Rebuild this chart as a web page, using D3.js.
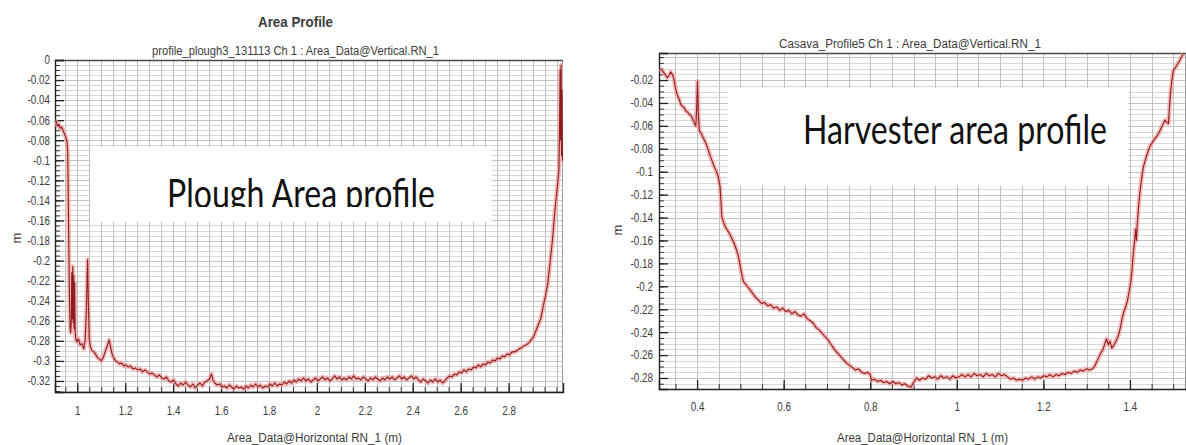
<!DOCTYPE html>
<html>
<head>
<meta charset="utf-8">
<script src="https://cdn.jsdelivr.net/npm/d3@7"></script>
<style>
  body { margin: 0; background: #fff; }
  svg { display: block; }
  .tick text { font-family: "Liberation Sans Narrow", "Liberation Sans", Arial, sans-serif; font-size: 12px; fill: #3c3c3c; }
  .lbl { font-family: "Liberation Sans Narrow", "Liberation Sans", Arial, sans-serif; fill: #3c3c3c; }
  .big { font-family: Lato, "Open Sans", sans-serif; fill: #111; }
</style>
</head>
<body>
<div id="container"></div>
<script>
// plough panel
const ploughXTicks = [1, 1.2, 1.4, 1.6, 1.8, 2, 2.2, 2.4, 2.6, 2.8];
const ploughYTicks = [0, -0.02, -0.04, -0.06, -0.08, -0.1, -0.12, -0.14, -0.16, -0.18, -0.2, -0.22, -0.24, -0.26, -0.28, -0.3, -0.32];
const ploughProfile = [
  [0.907,-0.060],[0.913,-0.062],[0.918,-0.066],[0.923,-0.064],[0.929,-0.068],[0.935,-0.067],[0.942,-0.071],[0.947,-0.074],
  [0.952,-0.077],[0.957,-0.082],[0.960,-0.092],[0.962,-0.130],[0.964,-0.170],[0.966,-0.210],[0.968,-0.245],[0.970,-0.266],
  [0.972,-0.272],[0.975,-0.262],[0.977,-0.212],[0.979,-0.258],[0.981,-0.206],[0.983,-0.262],[0.985,-0.215],[0.987,-0.268],
  [0.989,-0.222],[0.991,-0.270],[0.994,-0.279],[0.999,-0.281],[1.005,-0.278],[1.012,-0.284],[1.020,-0.283],[1.027,-0.288],
  [1.033,-0.279],[1.038,-0.250],[1.043,-0.199],[1.046,-0.240],[1.050,-0.278],[1.055,-0.286],[1.062,-0.290],[1.070,-0.291],
  [1.078,-0.294],[1.085,-0.297],[1.092,-0.298],[1.100,-0.300],[1.108,-0.297],[1.116,-0.291],[1.125,-0.285],[1.133,-0.279],
  [1.138,-0.285],[1.145,-0.293],[1.152,-0.297],[1.160,-0.300],[1.168,-0.301],[1.176,-0.303],[1.185,-0.302],[1.194,-0.305],
  [1.203,-0.304],[1.212,-0.306],[1.222,-0.305],[1.232,-0.308],[1.242,-0.307],[1.252,-0.309],[1.262,-0.308],[1.272,-0.311],
  [1.282,-0.309],[1.292,-0.311],[1.302,-0.313],[1.312,-0.312],[1.322,-0.314],[1.332,-0.316],[1.342,-0.314],[1.352,-0.317],
  [1.362,-0.318],[1.372,-0.316],[1.382,-0.320],[1.392,-0.321],[1.402,-0.319],[1.412,-0.323],[1.422,-0.325],[1.432,-0.322],
  [1.442,-0.324],[1.452,-0.321],[1.462,-0.324],[1.472,-0.326],[1.482,-0.323],[1.492,-0.327],[1.502,-0.324],[1.512,-0.322],
  [1.522,-0.325],[1.532,-0.321],[1.542,-0.320],[1.552,-0.318],[1.560,-0.313],[1.566,-0.319],[1.574,-0.322],[1.584,-0.324],
  [1.594,-0.323],[1.604,-0.326],[1.614,-0.325],[1.624,-0.327],[1.634,-0.324],[1.644,-0.326],[1.654,-0.328],[1.664,-0.325],
  [1.674,-0.327],[1.684,-0.326],[1.694,-0.328],[1.704,-0.325],[1.714,-0.327],[1.724,-0.324],[1.734,-0.326],[1.744,-0.323],
  [1.754,-0.326],[1.764,-0.324],[1.774,-0.327],[1.784,-0.325],[1.794,-0.326],[1.804,-0.323],[1.814,-0.325],[1.824,-0.322],
  [1.834,-0.325],[1.844,-0.323],[1.854,-0.324],[1.864,-0.321],[1.874,-0.323],[1.884,-0.320],[1.894,-0.322],[1.904,-0.319],
  [1.914,-0.321],[1.924,-0.318],[1.934,-0.320],[1.944,-0.317],[1.954,-0.320],[1.964,-0.318],[1.974,-0.321],[1.984,-0.319],
  [1.994,-0.317],[2.004,-0.320],[2.014,-0.318],[2.024,-0.316],[2.034,-0.319],[2.044,-0.317],[2.054,-0.320],[2.064,-0.318],
  [2.074,-0.315],[2.084,-0.318],[2.094,-0.316],[2.104,-0.319],[2.114,-0.317],[2.124,-0.319],[2.134,-0.316],[2.144,-0.318],
  [2.154,-0.315],[2.164,-0.318],[2.174,-0.317],[2.184,-0.319],[2.194,-0.316],[2.204,-0.318],[2.214,-0.320],[2.224,-0.317],
  [2.234,-0.319],[2.244,-0.316],[2.254,-0.318],[2.264,-0.320],[2.274,-0.317],[2.284,-0.319],[2.294,-0.316],[2.304,-0.318],
  [2.314,-0.316],[2.324,-0.319],[2.334,-0.317],[2.344,-0.315],[2.354,-0.318],[2.364,-0.316],[2.374,-0.319],[2.384,-0.317],
  [2.394,-0.315],[2.404,-0.318],[2.414,-0.316],[2.424,-0.319],[2.434,-0.321],[2.444,-0.318],[2.454,-0.320],[2.464,-0.322],
  [2.474,-0.319],[2.484,-0.321],[2.494,-0.318],[2.504,-0.321],[2.514,-0.319],[2.524,-0.322],[2.534,-0.320],[2.544,-0.317],
  [2.554,-0.315],[2.564,-0.316],[2.574,-0.313],[2.584,-0.314],[2.594,-0.311],[2.604,-0.312],[2.614,-0.309],[2.624,-0.311],
  [2.634,-0.308],[2.644,-0.309],[2.654,-0.306],[2.664,-0.307],[2.674,-0.304],[2.684,-0.306],[2.694,-0.303],[2.704,-0.304],
  [2.714,-0.301],[2.724,-0.302],[2.734,-0.299],[2.744,-0.300],[2.754,-0.297],[2.764,-0.298],[2.774,-0.295],[2.784,-0.296],
  [2.794,-0.293],[2.804,-0.294],[2.814,-0.291],[2.824,-0.291],[2.834,-0.290],[2.844,-0.288],[2.854,-0.287],[2.864,-0.285],
  [2.874,-0.284],[2.884,-0.282],[2.894,-0.279],[2.904,-0.276],[2.914,-0.270],[2.924,-0.264],[2.934,-0.258],[2.944,-0.246],
  [2.954,-0.235],[2.964,-0.222],[2.974,-0.200],[2.984,-0.177],[2.994,-0.148],[3.004,-0.125],[3.010,-0.110],[3.013,-0.060],
  [3.015,-0.010],[3.017,-0.080],[3.019,-0.005],[3.021,-0.095],[3.023,-0.030],[3.025,-0.100],[3.027,-0.098]
];

// cassava / harvester panel
const cassavaXTicks = [0.4, 0.6, 0.8, 1, 1.2, 1.4];
const cassavaYTicks = [-0.02, -0.04, -0.06, -0.08, -0.1, -0.12, -0.14, -0.16, -0.18, -0.2, -0.22, -0.24, -0.26, -0.28];
const cassavaProfile = [
  [0.314,-0.010],[0.320,-0.012],[0.326,-0.015],[0.331,-0.018],[0.335,-0.016],[0.339,-0.013],[0.343,-0.015],[0.347,-0.020],
  [0.350,-0.027],[0.354,-0.033],[0.358,-0.036],[0.362,-0.041],[0.366,-0.043],[0.370,-0.044],[0.374,-0.047],[0.378,-0.048],
  [0.382,-0.050],[0.386,-0.051],[0.390,-0.054],[0.394,-0.058],[0.397,-0.060],[0.399,-0.045],[0.401,-0.021],[0.403,-0.050],
  [0.405,-0.064],[0.410,-0.067],[0.415,-0.071],[0.420,-0.075],[0.425,-0.080],[0.430,-0.086],[0.435,-0.091],[0.440,-0.096],
  [0.445,-0.100],[0.449,-0.105],[0.453,-0.113],[0.455,-0.125],[0.457,-0.139],[0.461,-0.144],[0.465,-0.148],[0.470,-0.151],
  [0.475,-0.154],[0.480,-0.158],[0.485,-0.162],[0.490,-0.167],[0.495,-0.173],[0.499,-0.181],[0.503,-0.189],[0.507,-0.196],
  [0.512,-0.198],[0.518,-0.201],[0.524,-0.204],[0.530,-0.207],[0.536,-0.210],[0.542,-0.212],[0.549,-0.215],[0.556,-0.214],
  [0.563,-0.217],[0.570,-0.216],[0.577,-0.219],[0.584,-0.218],[0.591,-0.221],[0.598,-0.219],[0.605,-0.222],[0.612,-0.221],
  [0.619,-0.224],[0.626,-0.222],[0.633,-0.225],[0.640,-0.226],[0.647,-0.224],[0.654,-0.228],[0.661,-0.230],[0.668,-0.232],
  [0.675,-0.236],[0.682,-0.238],[0.689,-0.241],[0.696,-0.244],[0.703,-0.247],[0.710,-0.251],[0.717,-0.255],[0.724,-0.258],
  [0.731,-0.261],[0.738,-0.264],[0.745,-0.267],[0.752,-0.269],[0.759,-0.271],[0.766,-0.273],[0.773,-0.272],[0.780,-0.275],
  [0.787,-0.276],[0.794,-0.275],[0.800,-0.277],[0.803,-0.282],[0.810,-0.281],[0.817,-0.283],[0.824,-0.282],[0.831,-0.284],
  [0.838,-0.283],[0.845,-0.285],[0.852,-0.283],[0.859,-0.285],[0.866,-0.284],[0.873,-0.286],[0.880,-0.285],[0.887,-0.287],
  [0.894,-0.288],[0.900,-0.284],[0.907,-0.280],[0.914,-0.282],[0.921,-0.280],[0.928,-0.281],[0.935,-0.278],[0.942,-0.280],
  [0.949,-0.279],[0.956,-0.281],[0.963,-0.278],[0.970,-0.280],[0.977,-0.279],[0.984,-0.281],[0.991,-0.278],[0.998,-0.280],
  [1.005,-0.279],[1.012,-0.277],[1.019,-0.279],[1.026,-0.277],[1.033,-0.279],[1.040,-0.276],[1.047,-0.278],[1.054,-0.277],
  [1.061,-0.279],[1.068,-0.276],[1.075,-0.278],[1.082,-0.277],[1.089,-0.279],[1.096,-0.276],[1.103,-0.278],[1.110,-0.277],
  [1.117,-0.279],[1.124,-0.281],[1.131,-0.280],[1.138,-0.282],[1.145,-0.281],[1.152,-0.282],[1.159,-0.280],[1.166,-0.281],
  [1.173,-0.279],[1.180,-0.281],[1.187,-0.279],[1.194,-0.280],[1.201,-0.278],[1.208,-0.279],[1.215,-0.277],[1.222,-0.279],
  [1.229,-0.277],[1.236,-0.278],[1.243,-0.276],[1.250,-0.277],[1.257,-0.275],[1.264,-0.276],[1.271,-0.274],[1.278,-0.275],
  [1.285,-0.273],[1.292,-0.274],[1.299,-0.272],[1.306,-0.273],[1.313,-0.272],[1.318,-0.270],[1.323,-0.266],[1.328,-0.262],
  [1.333,-0.258],[1.338,-0.255],[1.342,-0.250],[1.346,-0.246],[1.350,-0.251],[1.354,-0.248],[1.358,-0.254],[1.362,-0.252],
  [1.366,-0.249],[1.370,-0.246],[1.374,-0.242],[1.378,-0.236],[1.382,-0.228],[1.386,-0.222],[1.390,-0.218],[1.394,-0.213],
  [1.398,-0.205],[1.402,-0.196],[1.405,-0.185],[1.408,-0.170],[1.411,-0.160],[1.413,-0.150],[1.415,-0.160],[1.417,-0.145],
  [1.420,-0.130],[1.423,-0.118],[1.427,-0.106],[1.431,-0.096],[1.436,-0.089],[1.441,-0.083],[1.446,-0.078],[1.451,-0.075],
  [1.456,-0.072],[1.462,-0.069],[1.467,-0.066],[1.472,-0.062],[1.477,-0.058],[1.481,-0.055],[1.485,-0.057],[1.489,-0.058],
  [1.491,-0.045],[1.494,-0.030],[1.497,-0.020],[1.500,-0.012],[1.505,-0.009],[1.510,-0.006],[1.515,-0.003],[1.519,0.000],
  [1.523,0.003]
];

const W = 1186, H = 445;
const NARROW = 0.82; // tick labels in the source are condensed
const svg = d3.select("#container")
    .append("svg")
    .attr("width", W)
    .attr("height", H);

const fmt = d => d === 0 ? "0" : String(+d.toFixed(3));

function drawPanel(p) {
    const x = d3.scaleLinear().domain(p.xDomain).range([p.left, p.right]);
    const y = d3.scaleLinear().domain(p.yDomain).range([p.bottom, p.top]);
    const g = svg.append("g");

    g.append("rect")
        .attr("x", p.left).attr("y", p.top)
        .attr("width", p.right - p.left).attr("height", p.bottom - p.top)
        .attr("fill", "#fff");

    // horizontal grid, every 0.005
    const hLines = d3.range(Math.ceil(p.yDomain[0] / 0.005), Math.floor(p.yDomain[1] / 0.005) + 1).map(k => k * 0.005);
    g.append("g").selectAll("line").data(hLines).join("line")
        .attr("x1", p.left).attr("x2", p.right)
        .attr("y1", d => Math.round(y(d)) + 0.5).attr("y2", d => Math.round(y(d)) + 0.5)
        .attr("stroke", d => Math.abs(Math.round(d * 1000) % 20) === 0 ? "#c4c4c4" : "#d8d8d8")
        .attr("stroke-width", 1);

    // vertical grid, every 0.05
    const vLines = d3.range(Math.ceil(p.xDomain[0] / 0.05), Math.floor(p.xDomain[1] / 0.05) + 1).map(k => k * 0.05);
    g.append("g").selectAll("line").data(vLines).join("line")
        .attr("x1", d => Math.round(x(d)) + 0.5).attr("x2", d => Math.round(x(d)) + 0.5)
        .attr("y1", p.top).attr("y2", p.bottom)
        .attr("stroke", "#c0c0c0")
        .attr("stroke-width", 1);

    // frame
    g.append("rect")
        .attr("x", p.left + 0.5).attr("y", p.top + 0.5)
        .attr("width", p.right - p.left - 1).attr("height", p.bottom - p.top)
        .attr("fill", "none").attr("stroke", "#a0a0a0");
    g.append("line")
        .attr("x1", p.left).attr("x2", p.right)
        .attr("y1", p.top + 0.5).attr("y2", p.top + 0.5)
        .attr("stroke", "#4a4a4a").attr("stroke-width", 1.6);

    // minor ticks
    g.append("g")
        .attr("transform", `translate(${p.left},0)`)
        .call(d3.axisLeft(y).tickValues(hLines).tickSize(-5).tickFormat(""))
        .call(a => a.select(".domain").remove())
        .selectAll("line").attr("stroke", "#333");
    g.append("g")
        .attr("transform", `translate(0,${p.bottom})`)
        .call(d3.axisBottom(x).tickValues(vLines).tickSize(-5).tickFormat(""))
        .call(a => a.select(".domain").remove())
        .selectAll("line").attr("stroke", "#333");

    // major axes
    const ya = g.append("g")
        .attr("transform", `translate(${p.left},0)`)
        .call(d3.axisLeft(y).tickValues(p.yTicks).tickSize(-9).tickPadding(p.yPad).tickFormat(fmt));
    ya.select(".domain").attr("stroke", "#222").attr("stroke-width", 1.4);
    ya.selectAll(".tick line").attr("stroke", "#222").attr("stroke-width", 1.3);
    ya.selectAll(".tick text")
        .attr("x", -p.yPad / NARROW)
        .attr("transform", `scale(${NARROW},1)`);

    const xa = g.append("g")
        .attr("transform", `translate(0,${p.bottom})`)
        .call(d3.axisBottom(x).tickValues(p.xTicks).tickSize(-9).tickPadding(p.xPad).tickFormat(fmt));
    xa.select(".domain").attr("stroke", "#222").attr("stroke-width", 1.4);
    xa.selectAll(".tick line").attr("stroke", "#222").attr("stroke-width", 1.3);
    xa.selectAll(".tick text").attr("transform", `scale(${NARROW},1)`);

    // profile line
    const clipId = "clip-" + p.name;
    svg.append("clipPath").attr("id", clipId)
        .append("rect")
        .attr("x", p.left).attr("y", p.top - 2)
        .attr("width", p.right - p.left).attr("height", p.bottom - p.top + 2);
    const line = d3.line().x(d => x(d[0])).y(d => y(d[1]));
    const lg = g.append("g").attr("clip-path", `url(#${clipId})`);
    lg.append("path").datum(p.data)
        .attr("d", line)
        .attr("fill", "none")
        .attr("stroke", "#f0a0a0")
        .attr("stroke-width", 4.5)
        .attr("stroke-opacity", 0.7)
        .attr("stroke-linejoin", "round");
    lg.append("path").datum(p.data)
        .attr("d", line)
        .attr("fill", "none")
        .attr("stroke", "#8e1c1c")
        .attr("stroke-width", 1.1)
        .attr("stroke-linejoin", "round");

    // titles
    g.append("text").attr("class", "lbl")
        .attr("x", p.subX).attr("y", p.subY)
        .attr("font-size", 12.5)
        .attr("textLength", p.subW).attr("lengthAdjust", "spacingAndGlyphs")
        .text(p.subtitle);
    g.append("text").attr("class", "lbl")
        .attr("x", p.xtX).attr("y", 442)
        .attr("font-size", 12.5)
        .attr("textLength", p.xtW).attr("lengthAdjust", "spacingAndGlyphs")
        .text("Area_Data@Horizontal RN_1 (m)");
    g.append("text").attr("class", "lbl")
        .attr("transform", `translate(${p.mX},${p.mY}) rotate(-90)`)
        .attr("text-anchor", "middle")
        .attr("font-size", 13)
        .text("m");

    // white overlay box with caption
    g.append("rect")
        .attr("x", p.box[0]).attr("y", p.box[1])
        .attr("width", p.box[2]).attr("height", p.box[3])
        .attr("fill", "#fff");
    const capClip = "cap-" + p.name;
    svg.append("clipPath").attr("id", capClip)
        .append("rect")
        .attr("x", p.box[0]).attr("y", p.box[1])
        .attr("width", p.box[2]).attr("height", p.capClipBottom - p.box[1]);
    g.append("text").attr("class", "big")
        .attr("clip-path", `url(#${capClip})`)
        .attr("x", p.capX).attr("y", p.capY)
        .attr("font-size", 40)
        .attr("textLength", p.capW).attr("lengthAdjust", "spacingAndGlyphs")
        .text(p.caption);
}

svg.append("text").attr("class", "lbl")
    .attr("x", 258).attr("y", 27)
    .attr("font-size", 14).attr("font-weight", "bold")
    .attr("fill", "#222")
    .attr("textLength", 75).attr("lengthAdjust", "spacingAndGlyphs")
    .text("Area Profile");

drawPanel({
    name: "plough",
    left: 55, right: 563, top: 60, bottom: 392,
    xDomain: [0.907, 3.027], yDomain: [-0.331, 0],
    xTicks: ploughXTicks, yTicks: ploughYTicks,
    xPad: 14, yPad: 5,
    data: ploughProfile,
    subtitle: "profile_plough3_131113  Ch 1 : Area_Data@Vertical.RN_1",
    subX: 152, subY: 55, subW: 287,
    xtX: 227, xtW: 175,
    mX: 21, mY: 238,
    box: [90, 147, 402, 75], capClipBottom: 207,
    caption: "Plough Area profile", capX: 167, capY: 208, capW: 268
});

drawPanel({
    name: "cassava",
    left: 659, right: 1186, top: 53, bottom: 389,
    xDomain: [0.312, 1.5295], yDomain: [-0.2896, 0.0036],
    xTicks: cassavaXTicks, yTicks: cassavaYTicks,
    xPad: 13, yPad: 6,
    data: cassavaProfile,
    subtitle: "Casava_Profile5  Ch 1 : Area_Data@Vertical.RN_1",
    subX: 779, subY: 48, subW: 262,
    xtX: 837, xtW: 171,
    mX: 622, mY: 230,
    box: [728, 88, 400, 98], capClipBottom: 186,
    caption: "Harvester area profile", capX: 803, capY: 144, capW: 304
});
</script>
</body>
</html>
